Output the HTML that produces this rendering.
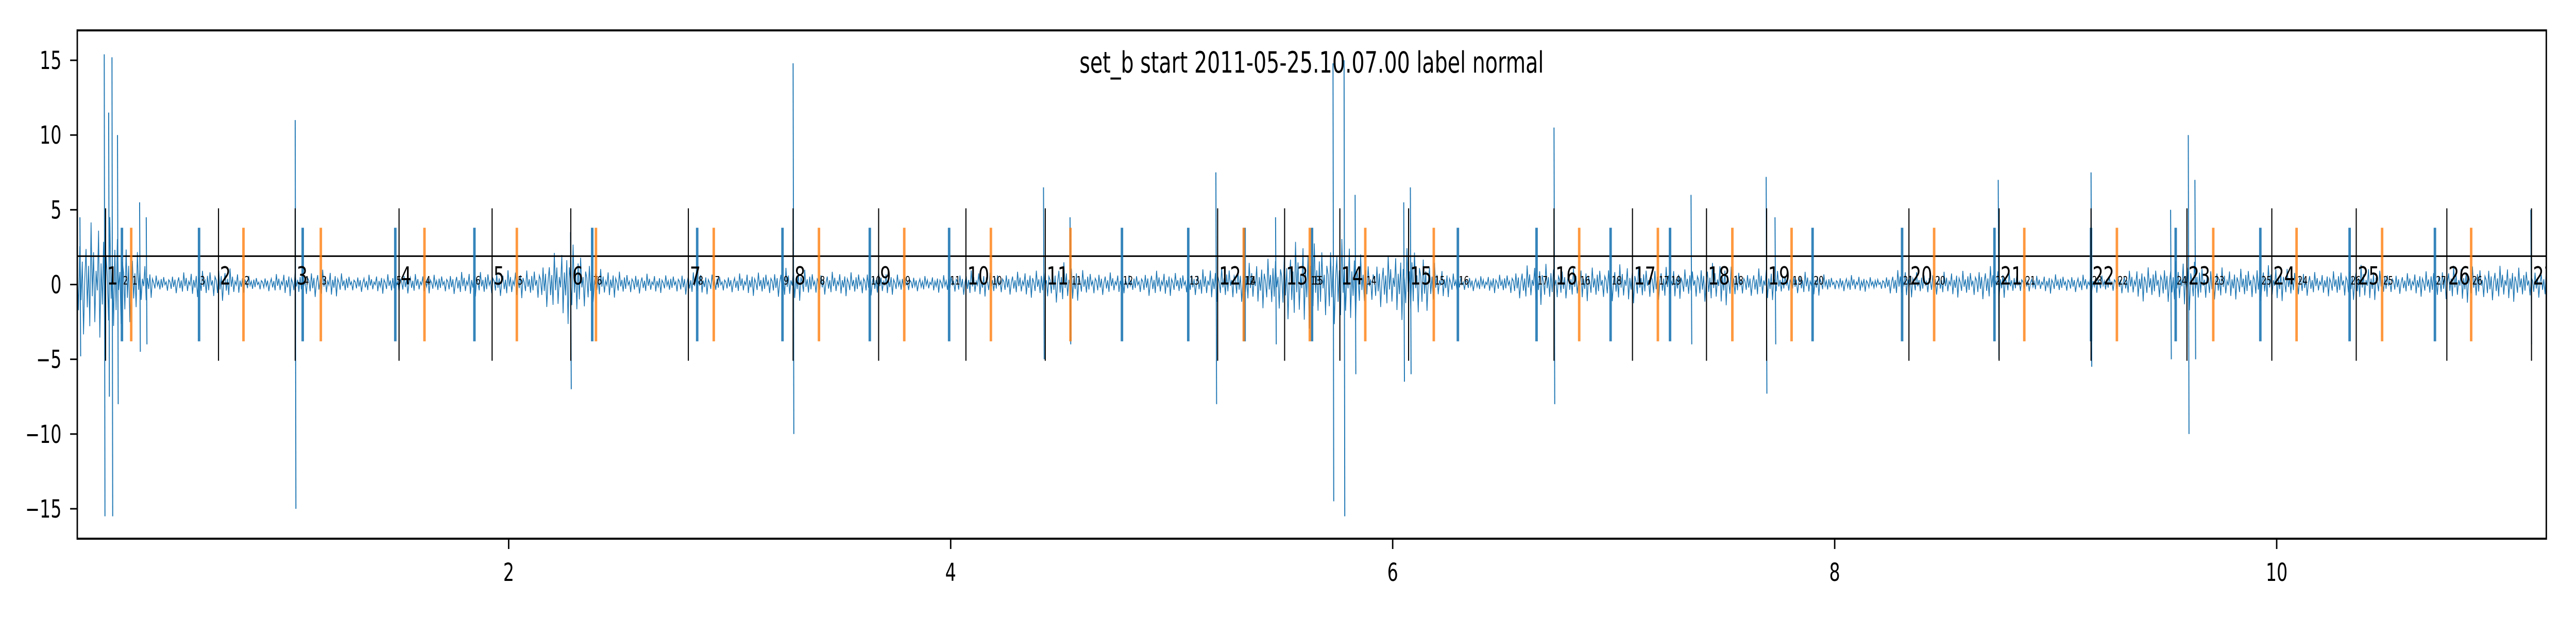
<!DOCTYPE html>
<html><head><meta charset="utf-8"><style>
html,body{margin:0;padding:0;background:#fff;width:100%;height:100%;overflow:hidden;}
svg{display:block;position:absolute;left:0;top:0;width:100vw;height:100vh;font-family:"DejaVu Sans","Liberation Sans",sans-serif;}
</style></head><body>
<svg id="chart" viewBox="0 0 7200 1200" preserveAspectRatio="none" xmlns="http://www.w3.org/2000/svg" overflow="hidden">
<text x="3666" y="141" font-size="57" text-anchor="middle">set_b start 2011-05-25.10.07.00 label normal</text>
</svg>
<script>
// ---- data ----
const xTicks = [2, 4, 6, 8, 10];
const yTicks = [-15, -10, -5, 0, 5, 10, 15];
const thresholdY = 1.9;
const blackX = [0.176,0.687,1.034,1.504,1.925,2.281,2.813,3.287,3.674,4.069,4.428,5.208,5.511,5.761,6.072,6.73,7.085,7.42,7.692,8.336,8.744,9.16,9.594,9.978,10.36,10.77,11.153];
const orangeX = [0.292,0.800,1.150,1.619,2.037,2.395,2.928,3.404,3.79,4.182,4.542,5.326,5.625,5.876,6.186,6.844,7.20,7.537,7.805,8.45,8.858,9.277,9.713,10.09,10.477,10.88];
const blueX = [0.25,0.599,1.068,1.487,1.845,2.378,2.853,3.239,3.634,3.993,4.775,5.075,5.33,5.635,6.295,6.651,6.986,7.255,7.90,8.305,8.723,9.16,9.543,9.926,10.33,10.716];
const ampStart = 0.0, ampStep = 0.1;
const amp = [3,4,5,2.5,0.6,0.7,0.9,1.3,0.6,0.5,0.8,1.0,0.9,0.6,0.6,0.8,0.6,0.7,0.8,0.9,0.9,1.0,2.0,3.0,1.0,0.9,0.7,0.6,0.8,0.7,0.6,0.8,0.9,1.2,0.8,0.8,0.9,0.8,0.6,0.5,0.7,0.9,0.8,0.8,1.0,1.5,1.0,0.8,0.6,0.9,0.8,0.8,1.2,1.3,1.5,2.5,3.0,3.0,3.0,1.5,2.0,3.0,1.2,0.6,0.5,0.7,1.2,1.5,1.0,1.2,1.3,1.3,1.2,1.0,1.3,1.5,0.8,1.2,0.6,0.9,0.5,0.6,0.4,1.0,0.8,0.8,1.0,1.2,0.8,0.5,0.7,0.6,0.6,0.7,1.2,1.3,1.8,1.2,1.0,1.3,1.2,1.0,0.7,1.1,1.3,0.8,0.7,1.0,1.2,1.3,1.2,1.2,1.0];
const wiggle = [0.2,-0.5,0.7,-0.3,0.4,-0.9,0.1,0.6,-0.4,0.3,-0.7,1.0,-0.2,0.5,-0.6,0.2,-0.1,0.8,-0.8,0.3,-0.3,0.6,-1.0,0.4,0.1,-0.5,0.9,-0.2,0.3,-0.6,0.5,-0.4,0.7,-0.1,0.2,-0.7,0.4];
const spikeX  = [0.06,0.17,0.19,0.205,0.23,0.33,0.36,1.034,2.28,3.287,4.42,4.54,5.2,5.47,5.73,5.78,5.83,6.05,6.08,6.73,7.35,7.69,7.73,8.74,9.16,9.52,9.6,9.63,11.15];
const spikeHi = [4.5,15.4,11.5,15.2,10,5.5,4.5,11,3.5,14.8,6.5,4.5,7.5,4.5,14.8,15,6,5.5,6.5,10.5,6,7.2,4.5,7,7.5,5,10,7,5];
const spikeLo = [-4.8,-15.5,-7.5,-15.5,-8,-4.5,-4,-15,-7,-10,-5,-4,-8,-4,-14.5,-15.5,-6,-6.5,-6,-8,-4,-7.3,-4,-5,-5.5,-5,-10,-5,-4];

// ---- axes ----
const L=216,R=7117,T=59,B=1046, xmin=0.048,xmax=11.22, ymin=-17,ymax=17;
const sx=v=>L+(v-xmin)/(xmax-xmin)*(R-L);
const sy=v=>B-(v-ymin)/(ymax-ymin)*(B-T);
const svg=document.getElementById('chart');
const NS='http://www.w3.org/2000/svg';
function mk(tag,attrs,parent){const e=document.createElementNS(NS,tag);for(const k in attrs)e.setAttribute(k,attrs[k]);(parent||svg).appendChild(e);return e;}
const defs=mk('defs',{});const cp=mk('clipPath',{id:'clip'},defs);mk('rect',{x:L,y:T,width:R-L,height:B-T},cp);
const plot=mk('g',{'clip-path':'url(#clip)'});



// trace
let pts=[];const n=Math.round((R-L)/3.5);
for(let i=0;i<=n;i++){const x=xmin+(xmax-xmin)*i/n;const f=(x-ampStart)/ampStep;const k=Math.max(0,Math.min(amp.length-2,Math.floor(f)));const t=Math.min(1,Math.max(0,f-k));const a=amp[k]*(1-t)+amp[k+1]*t;const y=0.05+a*wiggle[i%wiggle.length];pts.push(sx(x).toFixed(1)+','+sy(y).toFixed(1));}
const tr=mk('polyline',{points:pts.join(' '),fill:'none',stroke:'#1f77b4','stroke-width':2.2},plot);


spikeX.forEach((x,i)=>{const s=mk('line',{x1:sx(x),x2:sx(x)+2,y1:sy(spikeHi[i]),y2:sy(spikeLo[i]),stroke:'#1f77b4','stroke-width':2.8},plot);

});

// threshold
const th=mk('line',{x1:L,x2:R,y1:sy(thresholdY),y2:sy(thresholdY),stroke:'#000','stroke-width':3},plot);



blueX.forEach((x,i)=>{const m=mk('line',{x1:sx(x),x2:sx(x),y1:sy(3.8),y2:sy(-3.8),stroke:'#1f77b4','stroke-width':7,opacity:0.9},plot);


const t=mk('text',{x:sx(x)+3,y:sy(0),'font-size':22},plot);t.textContent=String(i+2);

});
orangeX.forEach((x,i)=>{const m=mk('line',{x1:sx(x),x2:sx(x),y1:sy(3.8),y2:sy(-3.8),stroke:'#ff7f0e','stroke-width':7,opacity:0.8},plot);


const t=mk('text',{x:sx(x)+3,y:sy(0),'font-size':22},plot);t.textContent=String(i+1);

});
blackX.forEach((x,i)=>{const m=mk('line',{x1:sx(x),x2:sx(x),y1:sy(5.1),y2:sy(-5.1),stroke:'#000','stroke-width':3},plot);


const t=mk('text',{x:sx(x)+4,y:sy(0),'font-size':48},plot);t.textContent=String(i+1);

});

// frame
const fr=mk('rect',{x:L,y:T,width:R-L,height:B-T,fill:'none',stroke:'#000','stroke-width':4});


xTicks.forEach(v=>{const l=mk('line',{x1:sx(v),x2:sx(v),y1:B,y2:B+20,stroke:'#000','stroke-width':4});


const t=mk('text',{x:sx(v),y:1128,'font-size':48,'text-anchor':'middle'});t.textContent=String(v);

});
yTicks.forEach(v=>{const l=mk('line',{x1:L-20,x2:L,y1:sy(v),y2:sy(v),stroke:'#000','stroke-width':3});


const t=mk('text',{x:172,y:sy(v)+17,'font-size':48,'text-anchor':'end'});t.textContent=(v<0?'\u2212':'')+Math.abs(v);

});
</script>
</body></html>
